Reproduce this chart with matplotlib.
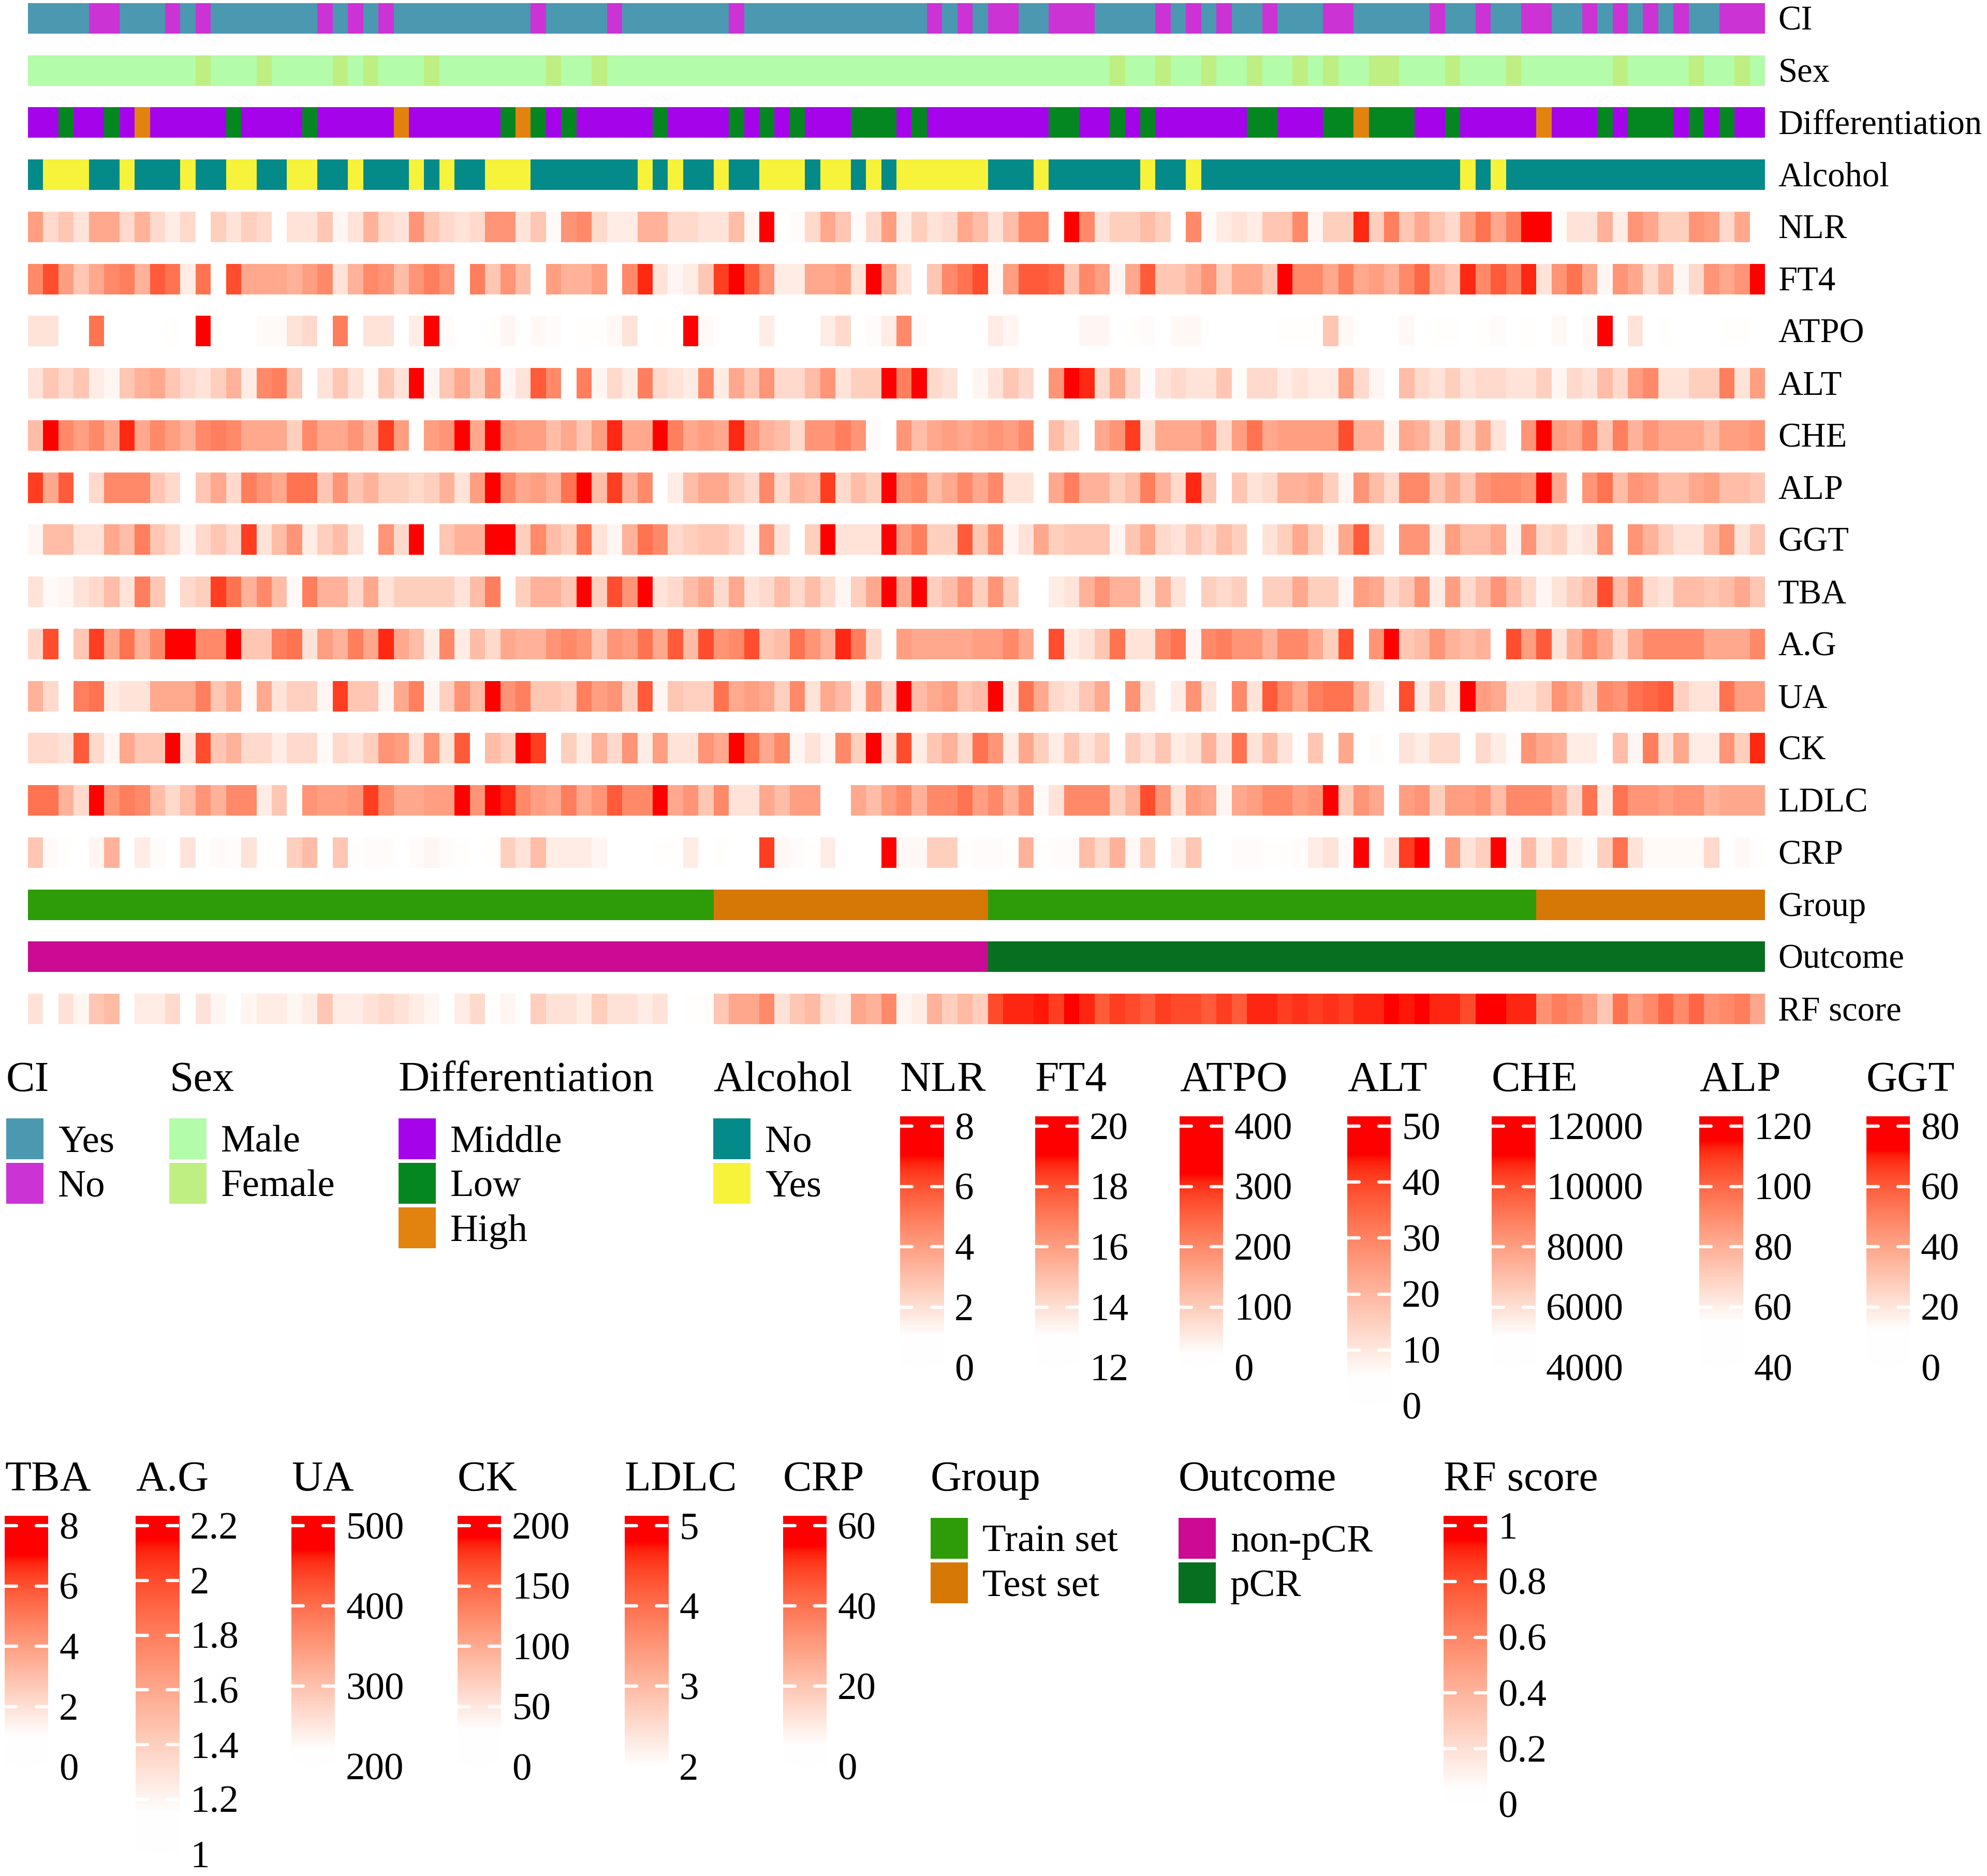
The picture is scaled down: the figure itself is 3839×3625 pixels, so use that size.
import numpy as np
import matplotlib
matplotlib.use("Agg")
import matplotlib.pyplot as plt
from matplotlib.colors import ListedColormap, Normalize, BoundaryNorm
from matplotlib.patches import Rectangle

plt.rcParams['font.family'] = ['Liberation Serif', 'DejaVu Serif']

nan = np.nan
n_samples = 114

# ---------------- categorical annotations (run lengths, left to right) ----------------
ci_runs = [("Yes", 4), ("No", 2), ("Yes", 3), ("No", 1), ("Yes", 1), ("No", 1), ("Yes", 7), ("No", 1),
           ("Yes", 1), ("No", 1), ("Yes", 1), ("No", 1), ("Yes", 9), ("No", 1), ("Yes", 4), ("No", 1),
           ("Yes", 7), ("No", 1), ("Yes", 12), ("No", 1), ("Yes", 1), ("No", 1), ("Yes", 1), ("No", 2),
           ("Yes", 2), ("No", 3), ("Yes", 4), ("No", 1), ("Yes", 1), ("No", 1), ("Yes", 1), ("No", 1),
           ("Yes", 2), ("No", 1), ("Yes", 3), ("No", 2), ("Yes", 5), ("No", 1), ("Yes", 2), ("No", 1),
           ("Yes", 2), ("No", 2), ("Yes", 2), ("No", 1), ("Yes", 1), ("No", 1), ("Yes", 1), ("No", 1),
           ("Yes", 1), ("No", 1), ("Yes", 2), ("No", 3)]
sex_runs = [("Male", 11), ("Female", 1), ("Male", 3), ("Female", 1), ("Male", 4), ("Female", 1),
            ("Male", 1), ("Female", 1), ("Male", 3), ("Female", 1), ("Male", 7), ("Female", 1),
            ("Male", 2), ("Female", 1), ("Male", 33), ("Female", 1), ("Male", 2), ("Female", 1),
            ("Male", 2), ("Female", 1), ("Male", 2), ("Female", 1), ("Male", 2), ("Female", 1),
            ("Male", 1), ("Female", 1), ("Male", 2), ("Female", 2), ("Male", 3), ("Female", 1),
            ("Male", 3), ("Female", 1), ("Male", 6), ("Female", 1), ("Male", 4), ("Female", 1),
            ("Male", 2), ("Female", 1), ("Male", 1)]
diff_runs = [("Middle", 2), ("Low", 1), ("Middle", 2), ("Low", 1), ("Middle", 1), ("High", 1),
             ("Middle", 5), ("Low", 1), ("Middle", 4), ("Low", 1), ("Middle", 5), ("High", 1),
             ("Middle", 6), ("Low", 1), ("High", 1), ("Low", 1), ("Middle", 1), ("Low", 1),
             ("Middle", 5), ("Low", 1), ("Middle", 4), ("Low", 1), ("Middle", 1), ("Low", 1),
             ("Middle", 1), ("Low", 1), ("Middle", 3), ("Low", 3), ("Middle", 1), ("Low", 1),
             ("Middle", 8), ("Low", 2), ("Middle", 2), ("Low", 1), ("Middle", 1), ("Low", 1),
             ("Middle", 6), ("Low", 2), ("Middle", 3), ("Low", 2), ("High", 1), ("Low", 3),
             ("Middle", 2), ("Low", 1), ("Middle", 5), ("High", 1), ("Middle", 3), ("Low", 1),
             ("Middle", 1), ("Low", 3), ("Middle", 1), ("Low", 1), ("Middle", 1), ("Low", 1),
             ("Middle", 2)]
alcohol_runs = [("No", 1), ("Yes", 3), ("No", 2), ("Yes", 1), ("No", 3), ("Yes", 1), ("No", 2),
                ("Yes", 2), ("No", 2), ("Yes", 2), ("No", 2), ("Yes", 1), ("No", 3), ("Yes", 1),
                ("No", 1), ("Yes", 1), ("No", 2), ("Yes", 3), ("No", 7), ("Yes", 1), ("No", 1),
                ("Yes", 1), ("No", 2), ("Yes", 1), ("No", 2), ("Yes", 3), ("No", 1), ("Yes", 2),
                ("No", 1), ("Yes", 1), ("No", 1), ("Yes", 6), ("No", 3), ("Yes", 1), ("No", 6),
                ("Yes", 1), ("No", 2), ("Yes", 1), ("No", 17), ("Yes", 1), ("No", 1), ("Yes", 1),
                ("No", 17)]
group_runs = [("Train set", 45), ("Test set", 18), ("Train set", 36), ("Test set", 15)]
outcome_runs = [("non-pCR", 63), ("pCR", 51)]

# ---------------- continuous annotations ----------------
nlr = [4.0, 2.2, 2.8, 1.9, 3.7, 3.7, 2.2, 3.4, 2.2, 1.6, 2.2, nan, 2.5, 1.9, 2.5, 2.2, nan, 1.9, 1.9, 2.8, 1.3, 1.9, 3.4,
       2.2, 1.9, 4.3, 2.8, 2.2, 1.9, 2.2, 4.3, 4.3, 1.9, 2.8, 1.18, 4.3, 4.6, 2.2, 1.6, 1.6, 3.4, 3.4, 2.2, 2.2, 1.9, 1.9,
       3.1, 1.3, 7.8, nan, 1.12, 2.2, 3.7, 2.8, 1.12, 2.2, 4.0, 1.6, 2.5, 1.9, 2.2, 3.7, 3.1, 1.9, 3.1, 4.6, 4.6, nan, 7.8,
       4.6, 1.9, 2.5, 2.5, 3.1, 2.5, nan, 4.6, 1.12, 1.6, 1.9, 1.6, 2.8, 2.8, 4.6, 1.3, 2.5, 2.5, 6.7, 2.5, 4.9, 2.8, 3.7,
       2.8, 2.2, 4.0, 5.2, 3.7, 4.9, 7.8, 7.8, 1.12, 1.9, 1.9, 3.4, 1.6, 4.3, 3.7, 2.5, 2.5, 4.3, 4.0, 2.2, 3.7, nan]
ft4 = [16.6, 18.1, 16.0, 14.8, 15.7, 16.6, 16.9, 15.4, 17.8, 17.2, 13.6, 17.2, nan, 18.1, 15.7, 15.7, 15.7, 15.4, 16.0, 16.6, 13.9, 15.4, 16.6,
       16.3, 15.1, 16.3, 16.9, 16.3, nan, 16.9, 14.8, 16.3, 15.1, nan, 16.0, 15.4, 15.4, 16.0, nan, 16.6, 18.7, 13.9, 13.3, 13.6, 14.8, 18.4,
       19.8, 17.8, 16.3, 13.6, 13.6, 15.7, 15.7, 16.0, 13.9, 19.8, 16.0, 13.9, nan, 14.8, 16.6, 17.2, 18.1, 13.18, 16.0, 17.8, 17.8, 17.5, 14.8,
       16.6, 16.0, 13.3, 15.7, 17.8, 14.8, 14.8, 15.4, 16.3, 14.5, 15.7, 15.7, 14.8, 19.8, 16.6, 16.6, 15.7, 16.9, 15.7, 16.0, 15.4, 16.6, 17.5,
       15.4, 14.8, 18.7, 16.6, 17.8, 16.9, 18.7, 13.9, 16.3, 17.2, 15.7, 13.3, 16.3, 15.7, 14.2, 15.4, 13.3, 14.2, 16.3, 15.7, 16.3, 19.8]
atpo = [65, 65, 0, 0, 230, 0, 0, 0, 0, 23, 0, 390, 0, 0, 0, 29, 29, 65, 80, 0, 215, 0, 65,
        65, 0, 50, 390, 26, 0, 0, 23, 35, 0, 32, 26, 0, 23, 23, 32, 65, 0, 23, 0, 390, 29, 0,
        0, 0, 50, 0, 0, 0, 50, 80, 0, 26, 50, 200, 26, 0, 0, 0, 0, 50, 35, 0, 0, 0, 0,
        35, 35, 0, 23, 26, 0, 32, 32, 0, 0, 0, 0, 0, 23, 23, 23, 110, 32, 0, 0, 0, 32, 0,
        23, 23, 0, 23, 26, 0, 23, 0, 32, 0, 29, 390, 0, 65, 0, 23, 0, 0, 0, 23, 23, 0]
alt = [11, 17, 13, 17, 9, 7, 17, 21, 23, 17, 13, 11, 15, 21, 9, 29, 31, 17, nan, 11, 17, 11, 6.2,
       17, 11, 49, 7, 17, 23, 15, 27, 7, 11, 37, 29, nan, 31, 7, 13, 9, 31, 13, 11, 9, 29, 9,
       23, 17, 27, 13, 13, 19, 27, 11, 15, 15, 49, 31, 49, 13, 11, nan, 7, 11, 17, 13, nan, 27, 49,
       43, 13, 23, 13, 5.8, 11, 13, 11, 11, 17, 5.8, 13, 13, 9, 11, 9, 9, 25, 13, 7, nan, 19, 13,
       11, 15, 11, 13, 13, 11, 11, 15, 7, 13, 11, 19, 13, 25, 29, 11, 11, 15, 15, 31, 11, 25]
che = [7100, 11800, 8600, 8000, 8600, 7700, 10700, 7700, 8600, 8000, 7400, 8600, 8900, 8600, 7700, 7700, 7700, 6500, 8600, 7700, 7700, 8300, 7400,
       10400, 8000, nan, 8000, 8300, 11800, 7700, 11800, 8300, 8000, 8000, 7100, 7700, 6800, 8000, 10700, 7700, 7700, 11800, 8900, 7700, 8000, 7700,
       10700, 8300, 7400, 7100, 6200, 8300, 8300, 8900, 8300, 5120, nan, 8300, 7100, 7700, 8000, 7700, 8000, 8300, 8000, 8600, nan, 7100, 6200,
       nan, 7700, 8300, 10400, 5900, 7700, 7700, 7700, 8300, 6200, 8000, 9200, 7700, 8000, 8000, 8000, 8000, 10100, 7400, 7400, 5300, 7700, 7400,
       6200, 7700, 6200, 7700, 5900, nan, 8300, 11800, 8000, 7700, 8900, 6800, 8900, 7400, 8300, 7700, 7700, 7700, 7100, 8000, 8000, 8300]
alp = [109, 82, 103, nan, 67, 91, 91, 91, 73, 67, nan, 73, 82, 67, 94, 88, 82, 97, 97, 73, 88, 73, 79,
       70, 70, 67, 70, 79, 64, 85, 118, 91, 82, 85, 79, 97, 118, 76, 109, 79, 91, nan, 61, 76, 82, 82,
       73, 67, 91, 67, 79, 76, 109, 67, 76, 70, 118, 88, 91, 76, 82, 91, 82, 91, 64, 64, nan, 82, 94,
       79, 79, 70, 76, 94, 79, 67, 112, 73, nan, 73, 64, 67, 79, 79, 82, 70, 58, 88, 76, 67, 91, 91,
       73, 82, 73, 88, 91, 91, 88, 118, 82, 55.6, 88, 97, 76, 88, 85, 76, 76, 82, 85, 76, 76, 73]
ggt = [15, 33, 33, 21, 21, 39, 33, 51, 30, 24, 15, 24, 30, 24, 66, 21, 33, 45, 18, 27, 33, 21, nan,
       45, 24, 78, nan, 30, 36, 36, 78, 78, 27, 48, 33, 27, 54, 21, 15, 36, 54, 48, 24, 27, 30, 30,
       24, 15, 45, 21, nan, 27, 78, 21, 21, 21, 78, 42, 51, 27, 27, 60, 30, 48, 15, 21, 39, 27, 30,
       30, 30, 15, 30, 39, 24, 21, 30, 24, 33, 27, nan, 21, 27, 39, 27, 15, 39, 60, 24, nan, 45, 45,
       18, 42, 33, 33, 39, 15, 45, 24, 27, 18, 21, 45, nan, 45, 36, 27, 21, 21, 33, 45, 21, 30]
tba = [1.9, 1.18, 1.3, 1.9, 2.2, 3.1, 1.9, 4.9, 2.8, nan, 2.2, 2.5, 6.4, 5.2, 3.4, 4.6, 3.1, 1.18, 4.9, 3.4, 3.4, 2.2, 3.7,
       1.9, 2.5, 2.5, 2.5, 2.5, 1.9, 3.1, 4.9, nan, 2.5, 3.4, 3.4, 2.8, 7.8, 2.5, 6.1, 4.3, 7.8, 1.9, 2.2, 3.1, 3.7, 2.2,
       3.7, 1.9, 2.2, 3.1, 2.2, 3.1, 2.2, 1.3, 2.5, 3.7, 7.8, 3.7, 7.8, 2.5, 3.1, 4.3, 2.5, 4.3, 2.5, nan, nan, 1.6, 1.9,
       3.4, 4.3, 3.4, 3.4, 1.6, 3.4, 1.9, nan, 2.5, 2.2, 2.5, nan, 2.5, 2.5, 3.7, 2.5, 2.5, 1.3, 4.0, 3.7, 2.2, 2.8, 4.3,
       1.6, 4.0, 2.2, 3.1, 4.3, 3.1, 2.2, 1.3, 1.9, 2.5, 3.1, 6.1, 3.1, 4.6, 2.2, 1.9, 3.1, 3.1, 2.8, 3.1, 3.7, 2.8]
ag = [1.35, 2.0, nan, 1.45, 2.05, 1.6, 1.85, 1.55, 1.75, 2.18, 2.18, 1.75, 1.75, 2.18, 1.45, 1.45, 1.8, 1.85, 1.3, 1.65, 1.55, 1.8, 1.6,
      2.1, 1.6, 1.5, 1.25, 1.75, 1.25, 1.5, 1.35, 1.6, 1.55, 1.55, 1.7, 1.75, 1.7, 1.45, 1.7, 1.65, 1.85, 1.6, 1.95, 1.5, 2.0, 1.7,
      1.75, 2.0, 1.45, 1.5, 1.85, 1.7, 1.55, 2.1, 1.8, 1.35, nan, 1.65, 1.6, 1.6, 1.6, 1.6, 1.65, 1.65, 1.75, 1.6, nan, 2.0, 1.25,
      1.3, 1.45, 1.85, 1.3, 1.3, 1.75, 1.85, 1.2, 1.75, 1.8, 1.7, 1.7, 1.55, 1.75, 1.75, 1.6, 1.4, 2.0, nan, 1.7, 2.18, 1.45, 1.5,
      1.7, 1.55, 1.5, 1.55, nan, 2.0, 1.65, 1.95, 1.3, 1.55, 1.75, 1.6, 1.35, 1.6, 1.75, 1.75, 1.75, 1.75, 1.6, 1.6, 1.6, 1.75]
ua = [320, 270, nan, 382, 395, 245, 258, 258, 332, 332, 332, 382, 295, 332, 228, 332, 258, 282, 282, 232, 445, 295, 295,
      232, 332, 382, 232, 282, 358, 308, 495, 358, 382, 295, 295, 282, 382, 345, 358, 282, 420, 232, 295, 282, 282, 395,
      332, 345, 332, 282, 370, 258, 332, 308, 245, 358, 270, 495, 308, 332, 345, 295, 308, 495, 245, 395, 332, 270, 258,
      295, 332, nan, 358, 258, nan, 245, 358, 258, nan, 370, 258, 420, 370, 332, 382, 395, 395, 320, 258, 225, 432, 245,
      295, 245, 495, 345, 332, 258, 258, 282, 358, 332, 282, 370, 358, 395, 408, 420, 282, 258, 258, 395, 345, 345]
ck = [62, 62, 54, 158, 62, 38, 102, 78, 78, 198, 54, 166, 78, 94, 62, 62, 46, 62, 62, 35, 62, 54, 70,
      118, 110, 54, 118, 54, 158, nan, 86, 70, 198, 174, nan, 70, 46, 94, 62, 118, 46, 110, 54, 54, 118, 102,
      198, 142, 102, 126, 38, 54, 38, 126, 70, 198, 54, 166, 46, 78, 94, 62, 142, 118, 46, 102, 70, 46, 78,
      54, 70, nan, 70, 54, 78, 46, 54, 94, 54, 142, 54, 86, 54, 33, 78, nan, 102, nan, 32, nan, 54, 46,
      62, 62, nan, 62, 46, 33, 118, 102, 94, 46, 46, nan, 86, 38, 134, 54, 102, 46, 46, 118, 70, 182]
ldlc = [3.96, 3.96, 3.12, 2.56, 4.9, 3.54, 3.82, 3.68, 2.98, 2.56, 2.98, 3.54, 3.12, 3.68, 3.68, 2.28, 2.84, nan, 3.54, 3.4, 3.4, 3.54, 4.52,
        3.68, 3.26, 3.26, 3.4, 3.4, 4.9, 3.54, 4.9, 4.66, 3.68, 3.4, 3.26, 3.82, 3.26, 3.54, 4.24, 3.68, 3.68, 4.9, 3.26, 3.54, 2.84, 3.68,
        2.42, 2.42, 3.26, 2.98, 3.4, 3.4, nan, nan, 3.26, 2.98, 3.4, 3.68, 3.12, 3.68, 3.68, 3.96, 3.4, 3.68, 3.12, 3.68, 2.08, 2.42, 3.68,
        3.68, 3.68, 2.7, 3.12, 4.38, 3.54, 2.42, 3.4, 3.26, 2.14, 3.26, 3.4, 3.68, 3.68, 3.4, 3.54, 4.9, 2.7, 3.54, 3.26, nan, 3.4, 3.54,
        2.7, 3.4, 3.4, 3.54, 2.98, 3.68, 3.68, 3.68, 3.26, 2.56, 3.96, 2.28, 3.96, 3.54, 3.54, 3.4, 3.54, 3.54, 3.12, 3.26, 3.26, 3.26]
crp = [20, 6.5, 5.5, nan, 7.5, 25, nan, 10, 6, nan, 12.5, 5.5, 6.5, 6, 12.5, 5.5, 5.5, 17.5, 22.5, nan, 20, 5.5, 6,
       6, nan, 6, 7.5, 6, 5.5, nan, 5.5, 17.5, 12.5, 22.5, 10, 10, 10, 7.5, nan, nan, nan, 5.5, 5.5, 10, nan, 5.5,
       nan, nan, 50, 7, 6, 5.5, 10, nan, nan, nan, 59, 7, 7, 17.5, 17.5, 5.5, 6, 6, 5.5, 25, 5.5, 6, 6,
       22.5, 15, 25, 7, 17.5, nan, 10, 20, nan, nan, 6, 6, 5.5, 5.5, 6, 10, 12.5, 6, 59, nan, 12.5, 50, 59,
       nan, 30, 12.5, 17.5, 59, 7.5, 22.5, 10, 20, 10, 6.5, 17.5, 40, 12.5, 6.5, 6.5, 6.5, 6.5, 15, nan, 7, 5.5]
rf_score = [0.19, 0.02, 0.19, 0.1, 0.32, 0.37, 0.02, 0.14, 0.14, 0.23, 0.02, 0.19, 0.1, 0.02, 0.1, 0.14, 0.14, 0.1, 0.14, 0.32, 0.14, 0.14, 0.19,
            0.23, 0.19, 0.14, 0.1, 0.02, 0.14, 0.23, 0.06, 0.1, 0.02, 0.28, 0.19, 0.19, 0.14, 0.28, 0.19, 0.19, 0.14, 0.19, 0.02, 0.06, 0.06, 0.32,
            0.46, 0.46, 0.59, 0.19, 0.32, 0.37, 0.19, 0.14, 0.46, 0.41, 0.59, 0.1, 0.14, 0.41, 0.28, 0.37, 0.28, 0.82, 0.91, 0.91, 0.93, 0.86, 0.98,
            0.91, 0.77, 0.86, 0.82, 0.77, 0.86, 0.82, 0.82, 0.77, 0.86, 0.77, 0.91, 0.91, 0.86, 0.89, 0.86, 0.89, 0.86, 0.91, 0.91, 0.98, 0.93, 0.98,
            0.91, 0.91, 0.82, 0.98, 0.98, 0.91, 0.91, 0.55, 0.64, 0.59, 0.5, 0.32, 0.68, 0.5, 0.59, 0.73, 0.59, 0.73, 0.55, 0.59, 0.64, 0.46]

# colours of the categorical annotations (legend order)
ci_cols = {"Yes": "#4B99B0", "No": "#CC33D4"}
sex_cols = {"Male": "#B3FCA9", "Female": "#BFEF82"}
diff_cols = {"Middle": "#A504EA", "Low": "#048720", "High": "#E3830F"}
alcohol_cols = {"No": "#058A8A", "Yes": "#F7F23A"}
group_cols = {"Train set": "#2E9B08", "Test set": "#D67806"}
outcome_cols = {"non-pCR": "#CB0B93", "pCR": "#077020"}


def expand(runs):
    out = []
    for lab, k in runs:
        out += [lab] * k
    assert len(out) == n_samples, len(out)
    return out


def white_red(n=256):
    # white -> red interpolated in CIE LAB (like circlize::colorRamp2)
    t = np.linspace(0, 1, n)
    L = 100 + t * (53.2408 - 100)
    a = t * 80.0925
    b = t * 67.2032
    fy = (L + 16) / 116
    fx = fy + a / 500
    fz = fy - b / 200

    def finv(f):
        return np.where(f ** 3 > 0.008856, f ** 3, (116 * f - 16) / 903.3)

    X, Y, Z = 0.95047 * finv(fx), finv(fy), 1.08883 * finv(fz)
    r = 3.2406 * X - 1.5372 * Y - 0.4986 * Z
    g = -0.9689 * X + 1.8758 * Y + 0.0415 * Z
    bl = 0.0557 * X - 0.2040 * Y + 1.0570 * Z
    rgb = np.clip(np.stack([r, g, bl], axis=1), 0, 1)
    rgb = np.where(rgb <= 0.0031308, 12.92 * rgb, 1.055 * rgb ** (1 / 2.4) - 0.055)
    return ListedColormap(np.clip(rgb, 0, 1))


cmap = white_red()

# name, kind, data, extra
rows = [
    ("CI", "cat", expand(ci_runs), ci_cols),
    ("Sex", "cat", expand(sex_runs), sex_cols),
    ("Differentiation", "cat", expand(diff_runs), diff_cols),
    ("Alcohol", "cat", expand(alcohol_runs), alcohol_cols),
    ("NLR", "num", nlr, (1.0, 7.0)),
    ("FT4", "num", ft4, (13.0, 19.0)),
    ("ATPO", "num", atpo, (20, 320)),
    ("ALT", "num", alt, (5, 45)),
    ("CHE", "num", che, (5000, 11000)),
    ("ALP", "num", alp, (55, 115)),
    ("GGT", "num", ggt, (12, 72)),
    ("TBA", "num", tba, (1.0, 7.0)),
    ("A.G", "num", ag, (1.15, 2.15)),
    ("UA", "num", ua, (220, 470)),
    ("CK", "num", ck, (30, 190)),
    ("LDLC", "num", ldlc, (2.0, 4.8)),
    ("CRP", "num", crp, (5, 55)),
    ("Group", "cat", expand(group_runs), group_cols),
    ("Outcome", "cat", expand(outcome_runs), outcome_cols),
    ("RF score", "num", rf_score, (0.05, 0.95)),
]
breaks = {name: extra for name, kind, _, extra in rows if kind == "num"}

W, H = 3839, 3625
fig = plt.figure(figsize=(W / 100, H / 100), dpi=100)


def rect(x0, y0, x1, y1):
    return [x0 / W, 1 - y1 / H, (x1 - x0) / W, (y1 - y0) / H]


# ---------------- heatmap annotation body ----------------
top0, pitch, rh = 6, 100.74, 59
hx0, hx1 = 54, 3410
body_h = (len(rows) - 1) * pitch + rh
ax = fig.add_axes(rect(hx0, top0, hx1, top0 + body_h))
ax.set_xlim(0, n_samples)
ax.set_ylim(body_h, 0)
ax.axis("off")

xe = np.arange(n_samples + 1)
for i, (name, kind, data, extra) in enumerate(rows):
    ye = [i * pitch, i * pitch + rh]
    if kind == "cat":
        levels = list(extra.keys())
        codes = np.array([levels.index(v) for v in data])[None, :]
        ax.pcolormesh(xe, ye, codes, cmap=ListedColormap(list(extra.values())),
                      norm=BoundaryNorm(np.arange(-0.5, len(levels)), len(levels)),
                      antialiased=False, edgecolors="none")
    else:
        vals = np.ma.masked_invalid(np.array(data, dtype=float))[None, :]
        assert vals.shape[1] == n_samples, name
        ax.pcolormesh(xe, ye, vals, cmap=cmap, norm=Normalize(extra[0], extra[1], clip=True),
                      antialiased=False, edgecolors="none")

# overlay in pixel coordinates for labels and legends
ov = fig.add_axes([0, 0, 1, 1])
ov.set_xlim(0, W)
ov.set_ylim(H, 0)
ov.axis("off")

for i, (name, *_r) in enumerate(rows):
    ov.text(3435, top0 + i * pitch + rh / 2 + 22, name, fontsize=48, va="baseline", ha="left")

TITLE_FS, LAB_FS = 60, 54


def cat_legend(x, dy, title, cols):
    ov.text(x, 2108 + dy, title, fontsize=TITLE_FS, va="baseline")
    for k, (lab, c) in enumerate(cols.items()):
        yt = 2161 + dy + k * 86
        ov.add_patch(Rectangle((x, yt), 72, 79, facecolor=c, edgecolor="none"))
        ov.text(x + 100, yt + 39.5 + 25, lab, fontsize=LAB_FS, va="baseline")


def bar_legend(x, dy, title, ticks, spacing, name):
    w, r = breaks[name]
    ticks_v = [float(t) for t in ticks]
    step = ticks_v[1] - ticks_v[0]
    lo, hi = ticks_v[0], ticks_v[-1]
    y_hi = 2176 + dy
    y_lo = y_hi + (len(ticks) - 1) * spacing
    top_val = hi + 19 / spacing * step
    ov.text(x, 2108 + dy, title, fontsize=TITLE_FS, va="baseline")
    cax = fig.add_axes(rect(x, y_hi - 19, x + 84, y_lo))
    grad = np.linspace(lo, top_val, 400)[:, None]
    cax.imshow(grad, origin="lower", aspect="auto", extent=(0, 1, lo, top_val),
               cmap=cmap, norm=Normalize(w, r, clip=True), interpolation="bilinear")
    cax.set_xlim(0, 1)
    cax.set_ylim(lo, top_val)
    cax.axis("off")
    cax.hlines(ticks_v, 0.0, 0.27, colors="white", linewidth=4.5, capstyle="round")
    cax.hlines(ticks_v, 0.73, 1.0, colors="white", linewidth=4.5, capstyle="round")
    for t in ticks:
        yc = y_hi + (hi - float(t)) / step * spacing
        ov.text(x + 105, yc + 25, str(t), fontsize=LAB_FS, va="baseline")


# first legend row
cat_legend(12, 0, "CI", ci_cols)
cat_legend(327, 0, "Sex", sex_cols)
cat_legend(770, 0, "Differentiation", diff_cols)
cat_legend(1378, 0, "Alcohol", alcohol_cols)
bar_legend(1739, 0, "NLR", [0, 2, 4, 6, 8], 116.6, "NLR")
bar_legend(2000, 0, "FT4", [12, 14, 16, 18, 20], 116.6, "FT4")
bar_legend(2279, 0, "ATPO", [0, 100, 200, 300, 400], 116.6, "ATPO")
bar_legend(2603, 0, "ALT", [0, 10, 20, 30, 40, 50], 108.2, "ALT")
bar_legend(2882, 0, "CHE", [4000, 6000, 8000, 10000, 12000], 116.6, "CHE")
bar_legend(3283, 0, "ALP", [40, 60, 80, 100, 120], 116.6, "ALP")
bar_legend(3606, 0, "GGT", [0, 20, 40, 60, 80], 116.6, "GGT")

# second legend row
dy2 = 772
bar_legend(9, dy2, "TBA", [0, 2, 4, 6, 8], 116.6, "TBA")
bar_legend(262, dy2, "A.G", [1, 1.2, 1.4, 1.6, 1.8, 2, 2.2], 105.8, "A.G")
bar_legend(563, dy2, "UA", [200, 300, 400, 500], 155.2, "UA")
bar_legend(884, dy2, "CK", [0, 50, 100, 150, 200], 116.6, "CK")
bar_legend(1207, dy2, "LDLC", [2, 3, 4, 5], 155.2, "LDLC")
bar_legend(1513, dy2, "CRP", [0, 20, 40, 60], 155.2, "CRP")
cat_legend(1798, dy2, "Group", group_cols)
cat_legend(2277, dy2, "Outcome", outcome_cols)
bar_legend(2789, dy2, "RF score", [0, 0.2, 0.4, 0.6, 0.8, 1], 107.8, "RF score")

fig.savefig("out.png", dpi=100, facecolor="white")
